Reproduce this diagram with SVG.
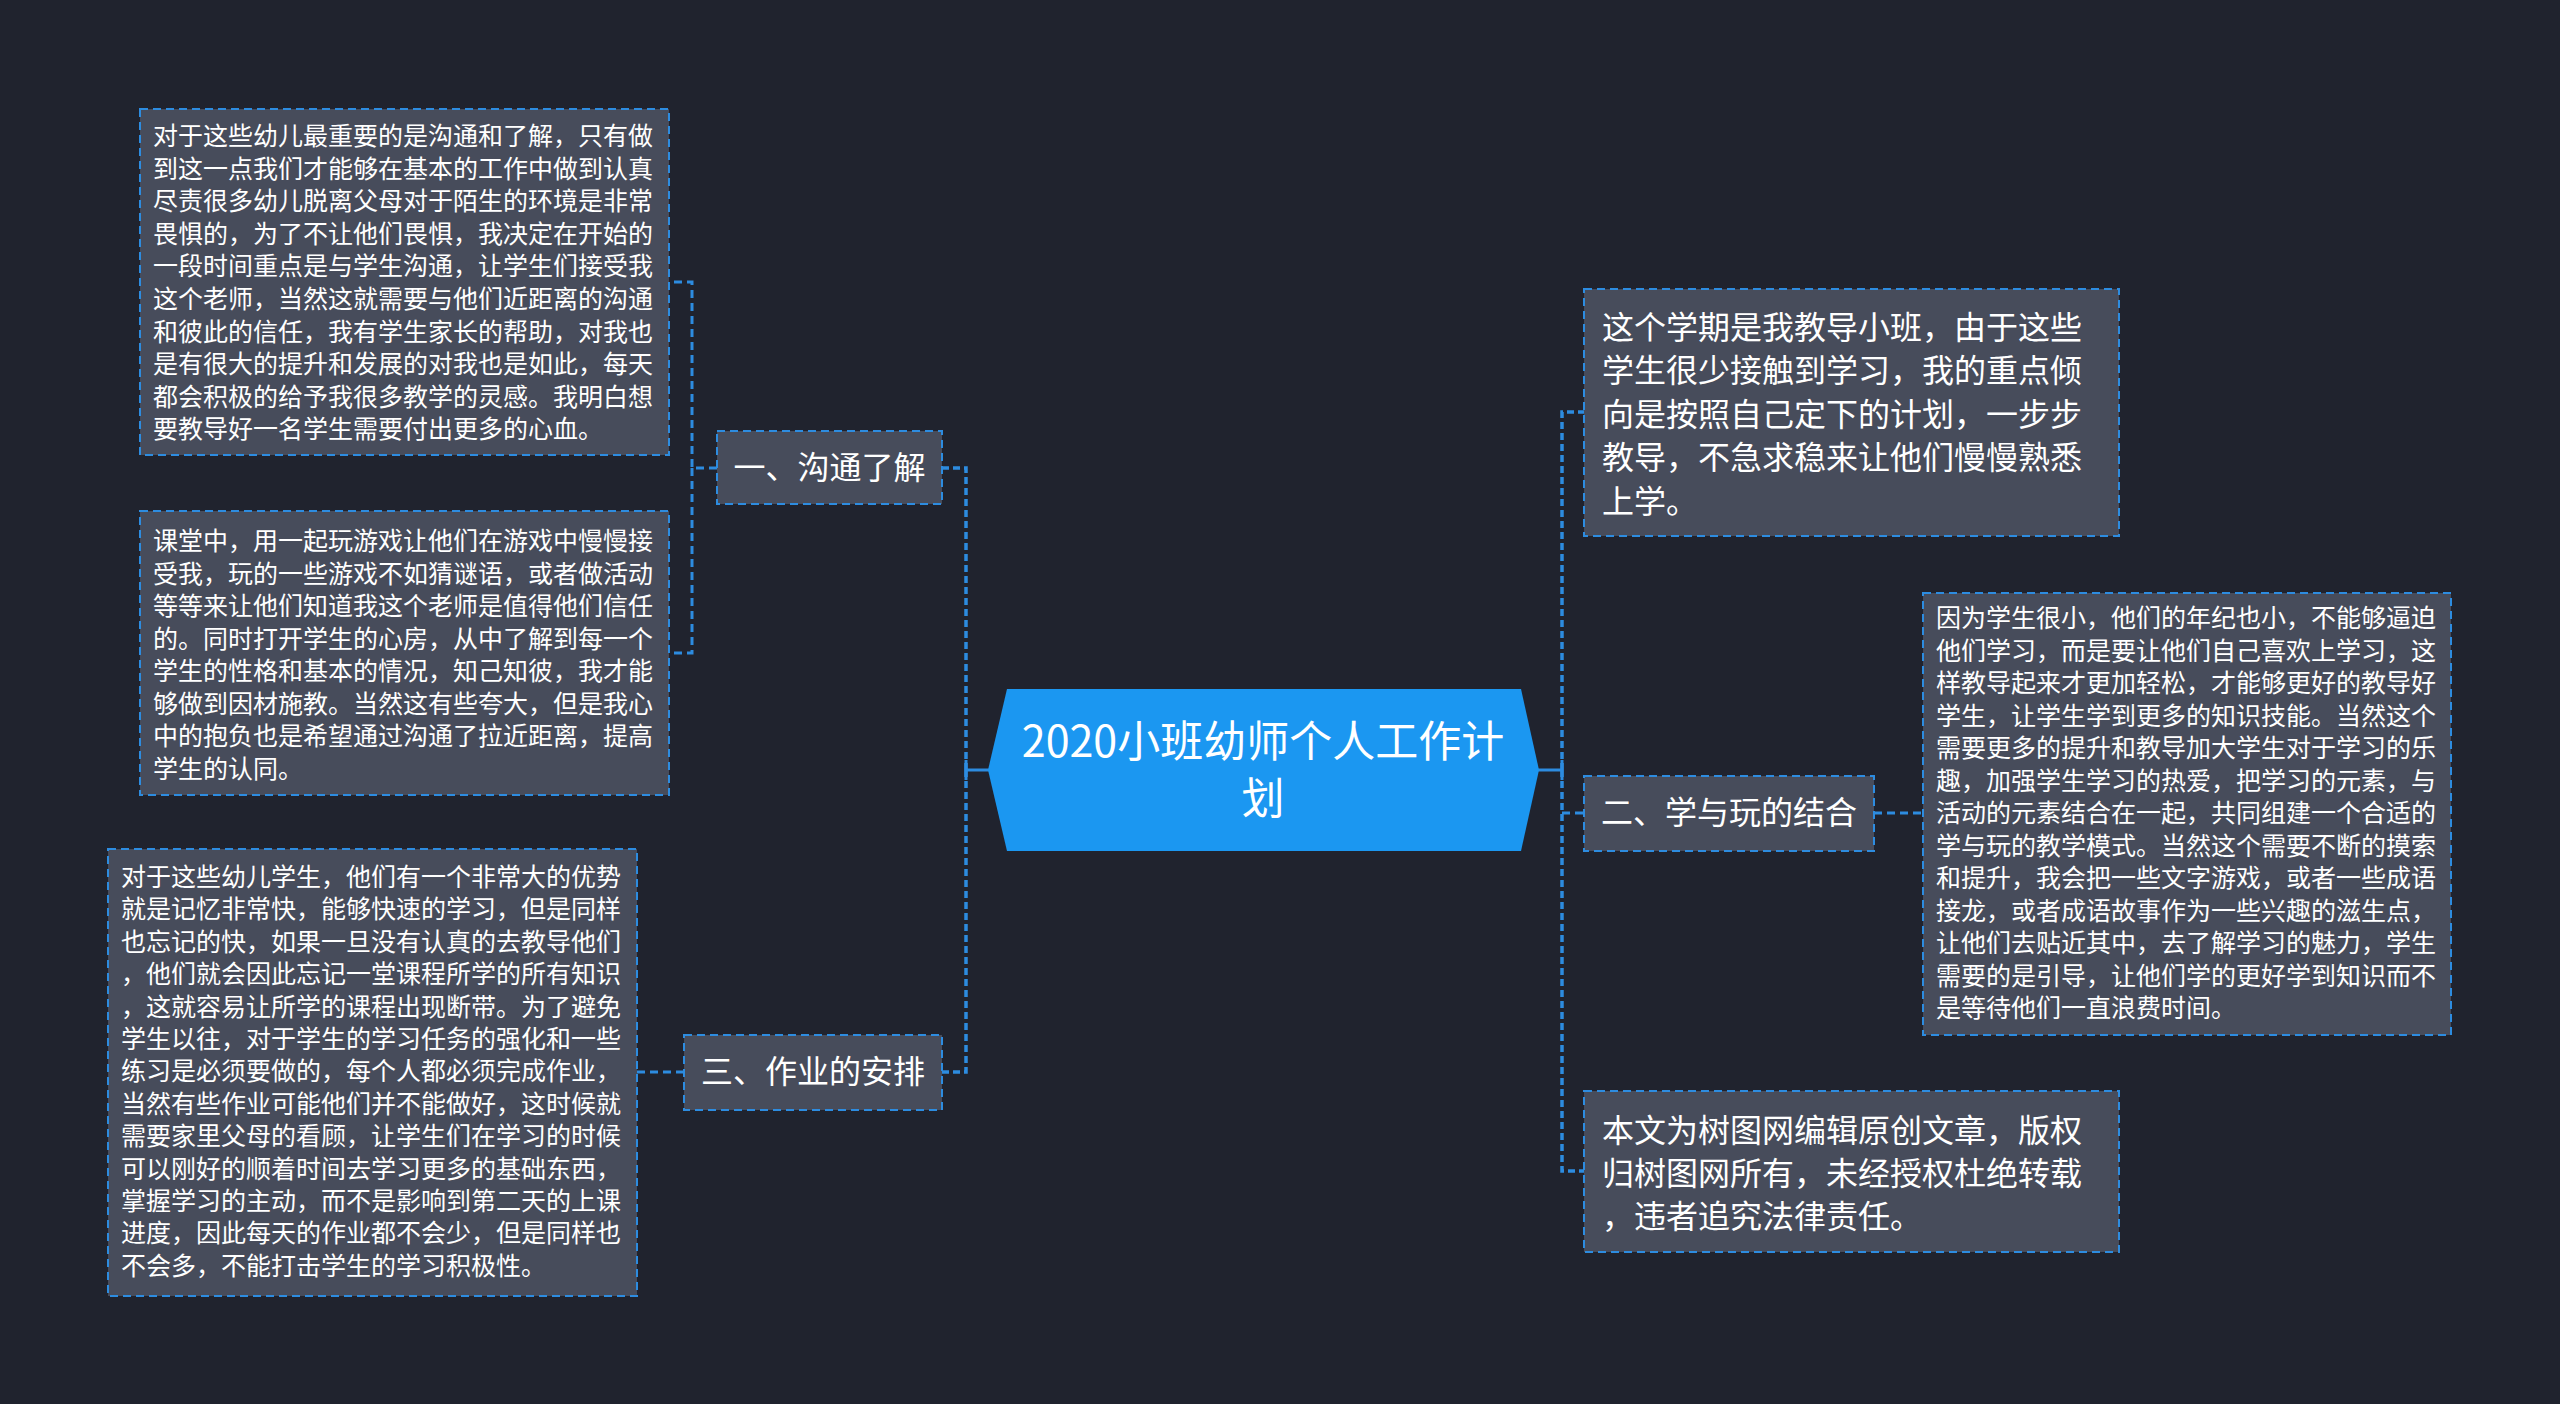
<svg xmlns="http://www.w3.org/2000/svg" width="2560" height="1404" viewBox="0 0 2560 1404">
<style>
.bg{fill:#20232e}
.box{fill:#474c5b;stroke:#2d8ce0;stroke-width:2;stroke-dasharray:8 5}
.t{font-family:"Noto Sans CJK SC","Noto Sans",sans-serif;fill:#ffffff;dominant-baseline:central}
.s{font-size:25px}
.m{font-size:32px}
.c{font-size:43px;text-anchor:middle}
.lbl{font-size:32px;text-anchor:middle}
.conn{fill:none;stroke:#2d8ce0;stroke-width:3;stroke-dasharray:8 5}
.main{fill:none;stroke:#2d8ce0;stroke-width:3.5;stroke-dasharray:7 4}
.solid{fill:none;stroke:#2d8ce0;stroke-width:3}
</style>
<rect class="bg" x="0" y="0" width="2560" height="1404"/>

<g id="connectors">
<path class="main" d="M966,770 V468 H942"/>
<path class="main" d="M966,770 V1072 H942"/>
<path class="solid" d="M966,770 H989"/>
<path class="solid" d="M966,760 V780"/>
<path class="main" d="M1562,770 V412 H1584"/>
<path class="main" d="M1562,770 V1171 H1584"/>
<path class="conn" d="M1562,813 H1584"/>
<path class="solid" d="M1538,770 H1562"/>
<path class="solid" d="M1562,760 V780"/>
<path class="conn" d="M717,468 H692 V282 H669"/>
<path class="conn" d="M692,468 V653 H669"/>
<path class="conn" d="M684,1072 H637"/>
<path class="conn" d="M1874,813 H1923"/>
</g>

<g id="center">
<polygon points="1007,689 1521,689 1539,770 1521,851 1007,851 988,770" fill="#1b97f1"/>
<text class="t c" x="1263" y="738">2020小班幼师个人工作计</text>
<text class="t c" x="1263" y="795">划</text>
</g>

<g id="branch1">
<rect class="box" x="717" y="431" width="225" height="73"/>
<text class="t lbl" x="829.5" y="465">一、沟通了解</text>
</g>

<g id="branch3">
<rect class="box" x="684" y="1035" width="258" height="75"/>
<text class="t lbl" x="813" y="1069">三、作业的安排</text>
</g>

<g id="branch2">
<rect class="box" x="1584" y="776" width="290" height="75"/>
<text class="t lbl" x="1729" y="810">二、学与玩的结合</text>
</g>

<g id="a1">
<rect class="box" x="140" y="109" width="529" height="346"/>
<text class="t s">
<tspan x="153" y="134">对于这些幼儿最重要的是沟通和了解，只有做</tspan>
<tspan x="153" y="166.6">到这一点我们才能够在基本的工作中做到认真</tspan>
<tspan x="153" y="199.2">尽责很多幼儿脱离父母对于陌生的环境是非常</tspan>
<tspan x="153" y="231.8">畏惧的，为了不让他们畏惧，我决定在开始的</tspan>
<tspan x="153" y="264.4">一段时间重点是与学生沟通，让学生们接受我</tspan>
<tspan x="153" y="297">这个老师，当然这就需要与他们近距离的沟通</tspan>
<tspan x="153" y="329.6">和彼此的信任，我有学生家长的帮助，对我也</tspan>
<tspan x="153" y="362.2">是有很大的提升和发展的对我也是如此，每天</tspan>
<tspan x="153" y="394.8">都会积极的给予我很多教学的灵感。我明白想</tspan>
<tspan x="153" y="427.4">要教导好一名学生需要付出更多的心血。</tspan>
</text>
</g>

<g id="a2">
<rect class="box" x="140" y="511" width="529" height="284"/>
<text class="t s">
<tspan x="153" y="539">课堂中，用一起玩游戏让他们在游戏中慢慢接</tspan>
<tspan x="153" y="571.5">受我，玩的一些游戏不如猜谜语，或者做活动</tspan>
<tspan x="153" y="604">等等来让他们知道我这个老师是值得他们信任</tspan>
<tspan x="153" y="636.5">的。同时打开学生的心房，从中了解到每一个</tspan>
<tspan x="153" y="669">学生的性格和基本的情况，知己知彼，我才能</tspan>
<tspan x="153" y="701.5">够做到因材施教。当然这有些夸大，但是我心</tspan>
<tspan x="153" y="734">中的抱负也是希望通过沟通了拉近距离，提高</tspan>
<tspan x="153" y="766.5">学生的认同。</tspan>
</text>
</g>

<g id="a3">
<rect class="box" x="108" y="849" width="529" height="447"/>
<text class="t s">
<tspan x="121" y="875">对于这些幼儿学生，他们有一个非常大的优势</tspan>
<tspan x="121" y="907.4">就是记忆非常快，能够快速的学习，但是同样</tspan>
<tspan x="121" y="939.8">也忘记的快，如果一旦没有认真的去教导他们</tspan>
<tspan x="121" y="972.2">，他们就会因此忘记一堂课程所学的所有知识</tspan>
<tspan x="121" y="1004.6">，这就容易让所学的课程出现断带。为了避免</tspan>
<tspan x="121" y="1037">学生以往，对于学生的学习任务的强化和一些</tspan>
<tspan x="121" y="1069.4">练习是必须要做的，每个人都必须完成作业，</tspan>
<tspan x="121" y="1101.8">当然有些作业可能他们并不能做好，这时候就</tspan>
<tspan x="121" y="1134.2">需要家里父母的看顾，让学生们在学习的时候</tspan>
<tspan x="121" y="1166.6">可以刚好的顺着时间去学习更多的基础东西，</tspan>
<tspan x="121" y="1199">掌握学习的主动，而不是影响到第二天的上课</tspan>
<tspan x="121" y="1231.4">进度，因此每天的作业都不会少，但是同样也</tspan>
<tspan x="121" y="1263.8">不会多，不能打击学生的学习积极性。</tspan>
</text>
</g>

<g id="r1">
<rect class="box" x="1584" y="289" width="535" height="247"/>
<text class="t m">
<tspan x="1602" y="324.5">这个学期是我教导小班，由于这些</tspan>
<tspan x="1602" y="368">学生很少接触到学习，我的重点倾</tspan>
<tspan x="1602" y="411.5">向是按照自己定下的计划，一步步</tspan>
<tspan x="1602" y="455">教导，不急求稳来让他们慢慢熟悉</tspan>
<tspan x="1602" y="498.5">上学。</tspan>
</text>
</g>

<g id="r2a">
<rect class="box" x="1923" y="593" width="528" height="442"/>
<text class="t s">
<tspan x="1936" y="616">因为学生很小，他们的年纪也小，不能够逼迫</tspan>
<tspan x="1936" y="648.5">他们学习，而是要让他们自己喜欢上学习，这</tspan>
<tspan x="1936" y="681">样教导起来才更加轻松，才能够更好的教导好</tspan>
<tspan x="1936" y="713.5">学生，让学生学到更多的知识技能。当然这个</tspan>
<tspan x="1936" y="746">需要更多的提升和教导加大学生对于学习的乐</tspan>
<tspan x="1936" y="778.5">趣，加强学生学习的热爱，把学习的元素，与</tspan>
<tspan x="1936" y="811">活动的元素结合在一起，共同组建一个合适的</tspan>
<tspan x="1936" y="843.5">学与玩的教学模式。当然这个需要不断的摸索</tspan>
<tspan x="1936" y="876">和提升，我会把一些文字游戏，或者一些成语</tspan>
<tspan x="1936" y="908.5">接龙，或者成语故事作为一些兴趣的滋生点，</tspan>
<tspan x="1936" y="941">让他们去贴近其中，去了解学习的魅力，学生</tspan>
<tspan x="1936" y="973.5">需要的是引导，让他们学的更好学到知识而不</tspan>
<tspan x="1936" y="1006">是等待他们一直浪费时间。</tspan>
</text>
</g>

<g id="r3">
<rect class="box" x="1584" y="1091" width="535" height="161"/>
<text class="t m">
<tspan x="1602" y="1128">本文为树图网编辑原创文章，版权</tspan>
<tspan x="1602" y="1171">归树图网所有，未经授权杜绝转载</tspan>
<tspan x="1602" y="1214">，违者追究法律责任。</tspan>
</text>
</g>
</svg>
